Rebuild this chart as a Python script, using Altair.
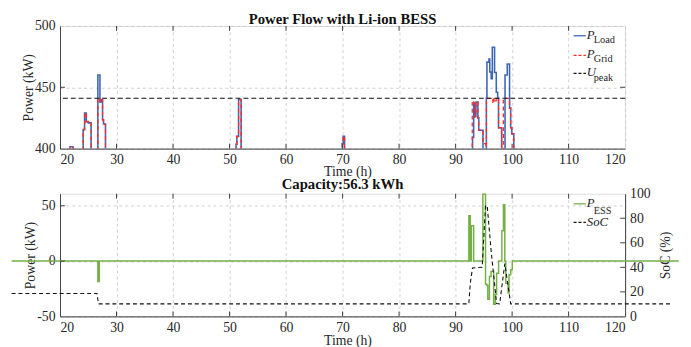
import altair as alt
import pandas as pd

FONT = "Liberation Serif"

# ---------------- data ----------------
x_ticks = [20, 30, 40, 50, 60, 70, 80, 90, 100, 110, 120]
top_y_ticks = [400, 450, 500]
ess_y_ticks = [-50, 0, 50]
soc_ticks = [0, 20, 40, 60, 80, 100]
u_peak = 441

load_t = [20, 21.8, 22.3, 24.1, 24.35, 24.65, 25.0, 25.5, 26.7, 27.07, 27.3, 27.53, 27.7, 28.05,
          51.15, 51.3, 51.6, 52.05, 69.95, 70.1, 70.35,
          93.0, 93.2, 93.4, 93.6, 93.95, 94.1, 94.85, 95.45, 95.55, 95.9, 96.05, 96.3, 96.5,
          96.9, 97.2, 97.45, 97.6, 98.15, 98.75, 99.15, 99.55, 99.75, 99.95, 100.3, 120]
load_v = [390, 401.5, 390, 415.5, 429, 422, 421, 390, 460, 438, 440, 423.5, 420, 390,
          403.5, 410, 440, 390, 404, 410, 390,
          409, 437, 426, 438, 425, 415, 390, 441, 470.5, 473, 462.5, 457, 482.6,
          462, 446, 441, 417, 390, 460, 469, 433, 417, 412, 390, 390]

grid_t = [20, 21.8, 22.3, 24.1, 24.35, 24.65, 25.0, 25.5, 26.7, 27.07, 27.3, 27.53, 27.7, 28.05,
          51.15, 51.3, 51.6, 52.05, 69.95, 70.1, 70.35,
          92.95, 93.2, 93.4, 93.6, 93.95, 94.1, 94.85, 95.35, 95.45, 96.6, 96.8, 97.0, 97.2,
          97.6, 98.15, 98.45, 99.55, 99.75, 99.95, 100.3, 120]
grid_v = [390, 401.5, 390, 415.5, 429, 422, 421, 390, 441, 438, 440, 423.5, 420, 390,
          403.5, 410, 440, 390, 404, 410, 390,
          439, 437, 426, 438, 425, 415, 404, 390, 441, 437, 441, 439, 441,
          417, 390, 441, 433, 417, 412, 390, 390]

ess_t = [11.44, 26.7, 26.95, 92.35, 92.6, 92.8, 93.2, 94.83, 95.3, 95.55, 95.7, 95.99, 96.28,
         96.74, 97.03, 97.26, 97.61, 98.19, 98.47, 98.71, 98.89, 99.29, 99.46, 99.76, 100.03, 129.5]
ess_v = [0, -18.4, 0, 41, 0, 32, 0, 60.5, -21, -22, -34.6, -14, -9.3,
         -39, -30, -11, 0, 27.5, 51, 0, -20, -28.8, -12.4, -7.8, 0, 0]

soc_t = [11.44, 26.55, 26.8, 92.34, 92.6, 93.0, 94.7, 95.3, 95.6, 96.3, 97.26, 97.8, 98.71, 99.76, 128.2]
soc_v = [18.7, 18.7, 10.2, 10.2, 27, 39.5, 40, 90.5, 90, 53, 10.5, 10.2, 43, 10.2, 10.2]

load_df = pd.DataFrame({"t": load_t, "v": load_v})
grid_df = pd.DataFrame({"t": grid_t, "v": grid_v})
ess_df = pd.DataFrame({"t": ess_t, "v": ess_v})
soc_df = pd.DataFrame({"t": soc_t, "v": soc_v})
one = pd.DataFrame({"a": [0]})
xt_df = pd.DataFrame({"t": x_ticks[1:-1]})
top_yt_df = pd.DataFrame({"v": top_y_ticks[1:-1]})
ess_yt_df = pd.DataFrame({"v": ess_y_ticks[1:]})
soc_t_df = pd.DataFrame({"v": soc_ticks[1:-1]})

# ---------------- styling ----------------
BLUE = "#3d67b5"
RED = "#ff2a2a"
GREEN = "#74b046"
INK = "#262626"
FRAME = "#404040"
W, H = 576, 125
TK = 5  # inward tick length

ax = dict(labelFont=FONT, titleFont=FONT, labelFontSize=14, titleFontSize=14,
          titleFontWeight="normal", labelColor=INK, titleColor=INK,
          domainColor=FRAME, tickSize=0, gridColor="#c4c4c4",
          gridDash=[3, 3], gridWidth=0.8)

xscale = alt.Scale(domain=[20, 120], nice=False, zero=False)


def xaxis(tp):
    return alt.Axis(values=x_ticks, title="Time (h)", grid=True, labelPadding=4,
                    titlePadding=tp, titleX=W / 2 + 5, format="d", **ax)


def x_inner_ticks():
    b = alt.Chart(xt_df).mark_rule(color=FRAME, strokeWidth=1).encode(
        x=alt.X("t:Q", scale=xscale), y=alt.value(H), y2=alt.value(H - TK))
    t = alt.Chart(xt_df).mark_rule(color=FRAME, strokeWidth=1).encode(
        x=alt.X("t:Q", scale=xscale), y=alt.value(0), y2=alt.value(TK))
    return [b, t]


def y_inner_ticks(df, scale, side, axis_none):
    kw = dict(scale=scale)
    if axis_none:
        kw["axis"] = None
    x0, x1 = (0, TK) if side == "left" else (W, W - TK)
    return alt.Chart(df).mark_rule(color=FRAME, strokeWidth=1).encode(
        y=alt.Y("v:Q", **kw), x=alt.value(x0), x2=alt.value(x1))


def legend_rows(rows, sample_dx=(523.5, 536)):
    layers = []
    for (y, color, dash, main, sub, y_main, y_sub) in rows:
        rule_kw = dict(color=color, strokeWidth=1.3)
        if dash:
            rule_kw["strokeDash"] = dash
        layers.append(alt.Chart(one).mark_rule(**rule_kw).encode(
            x=alt.value(sample_dx[0]), x2=alt.value(sample_dx[1]), y=alt.value(y)))
        layers.append(alt.Chart(one).mark_text(
            font=FONT, fontSize=13, fontStyle="italic", align="left",
            baseline="alphabetic", color=INK).encode(
            x=alt.value(sample_dx[1] + 1), y=alt.value(y_main), text=alt.value(main)))
        if sub:
            layers.append(alt.Chart(one).mark_text(
                font=FONT, fontSize=10.5, align="left", baseline="alphabetic",
                color=INK).encode(
                x=alt.value(sample_dx[1] + 8), y=alt.value(y_sub), text=alt.value(sub)))
    return layers


# ---------------- top panel ----------------
top_y = alt.Scale(domain=[400, 500], nice=False, zero=False)
top_yaxis = alt.Axis(values=top_y_ticks, title="Power (kW)", grid=True,
                     labelPadding=5, titleX=-32, titleY=H / 2, titleBaseline="middle",
                     titleAngle=270, **ax)

load_line = alt.Chart(load_df).mark_line(
    color=BLUE, strokeWidth=1.6, interpolate="step-after", clip=True).encode(
    x=alt.X("t:Q", scale=xscale, axis=xaxis(-2)),
    y=alt.Y("v:Q", scale=top_y, axis=top_yaxis))

grid_line = alt.Chart(grid_df).mark_line(
    color=RED, strokeWidth=1.3, strokeDash=[4, 3], interpolate="step-after", clip=True).encode(
    x=alt.X("t:Q", scale=xscale), y=alt.Y("v:Q", scale=top_y))

peak_rule = alt.Chart(one).mark_rule(color="#111111", strokeWidth=1.1, strokeDash=[5, 3]).encode(
    y=alt.datum(u_peak))

top_legend = legend_rows([
    (10, BLUE, None, "P", "Load", 13.4, 17.4),
    (30, RED, [3, 2], "P", "Grid", 32.7, 36.4),
    (48.4, "#111111", [3, 2], "U", "peak", 51.5, 55.7),
])

top_ticks = x_inner_ticks() + [
    y_inner_ticks(top_yt_df, top_y, "left", False),
    y_inner_ticks(top_yt_df, top_y, "right", False),
]

top = alt.layer(load_line, grid_line, peak_rule, *top_ticks, *top_legend).properties(
    width=W, height=H,
    title=alt.TitleParams("Power Flow with Li-ion BESS", font=FONT, fontSize=15,
                          fontWeight="bold", color="#111111", offset=-8))

# ---------------- bottom panel ----------------
ess_y = alt.Scale(domain=[-50, 60.9], nice=False, zero=False)
ess_yaxis = alt.Axis(values=ess_y_ticks, title="Power (kW)", grid=True,
                     labelPadding=5, titleX=-30, titleY=H / 2, titleBaseline="middle",
                     titleAngle=270, labelExpr="'' + datum.value", **ax)
soc_y = alt.Scale(domain=[0, 100], nice=False, zero=False)
soc_axis = alt.Axis(values=soc_ticks, title="SoC (%)", orient="right", grid=False,
                    labelPadding=4.5, titleX=41, titleY=H / 2, titleBaseline="middle",
                    titleAngle=270, **ax)

ess_line = alt.Chart(ess_df).mark_line(
    color=GREEN, strokeWidth=1.5, interpolate="step-after", clip=False).encode(
    x=alt.X("t:Q", scale=xscale, axis=xaxis(0)),
    y=alt.Y("v:Q", scale=ess_y, axis=ess_yaxis))

soc_line = alt.Chart(soc_df).mark_line(
    color="#111111", strokeWidth=1.1, strokeDash=[4, 3], clip=False).encode(
    x=alt.X("t:Q", scale=xscale),
    y=alt.Y("v:Q", scale=soc_y, axis=soc_axis))

bot_legend = legend_rows([
    (10.3, GREEN, None, "P", "ESS", 13.3, 20.3),
    (29.3, "#111111", [3, 2], "SoC", None, 32.5, 0),
])

bot_ticks = x_inner_ticks() + [
    y_inner_ticks(ess_yt_df, ess_y, "left", True),
    y_inner_ticks(soc_t_df, soc_y, "right", True),
]

bottom = alt.layer(ess_line, soc_line, *bot_ticks, *bot_legend).resolve_scale(
    y="independent").properties(
    width=W, height=H,
    title=alt.TitleParams("Capacity:56.3 kWh", font=FONT, fontSize=15,
                          fontWeight="bold", color="#111111", offset=-5))

chart = alt.vconcat(top, bottom, spacing=46, bounds="flush").properties(
    padding={"left": 0, "top": 0, "right": 0, "bottom": 0}
).configure_view(stroke=FRAME, strokeWidth=1).configure(background="white")

chart.save("out.html", embed_options={"renderer": "svg", "actions": False})
